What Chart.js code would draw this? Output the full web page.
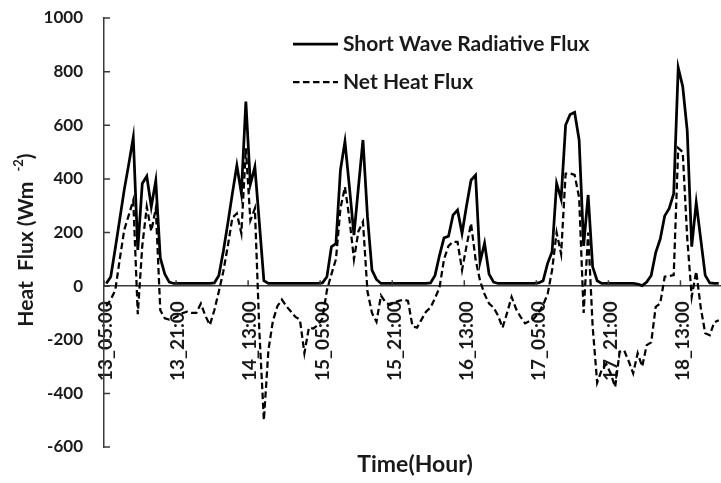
<!DOCTYPE html>
<html><head><meta charset="utf-8">
<script src="https://cdn.jsdelivr.net/npm/chart.js@4.4.1/dist/chart.umd.min.js"></script>
<style>html,body{margin:0;padding:0;background:#fff}</style>
</head><body>
<canvas id="c" width="721" height="483"></canvas>
<script>
// ---- data ----
const startDay = 13, startHour = 5, hoursCount = 137;
const categories = [];
for (let i = 0; i < hoursCount; i++) {
  const h = startHour + i;
  categories.push((startDay + Math.floor(h / 24)) + '_' + String(h % 24).padStart(2, '0') + ':00');
}
const tickEvery = 16;
const shortWave = [
  10, 35, 140, 250, 360, 455, 555, 135, 383, 410, 296, 393, 105, 45, 15,
  10, 10, 10, 10, 10, 10, 10, 10, 10,
  12, 40, 130, 235, 345, 450, 346, 688, 380, 445, 235, 20,
  10, 10, 10, 10, 10, 10, 10, 10, 10, 10, 10, 10,
  12, 35, 147, 158, 433, 539, 368, 190, 370, 545, 260, 60, 25,
  10, 10, 10, 10, 10, 10, 10, 10, 10, 10, 10,
  12, 40, 115, 180, 186, 265, 284, 197, 300, 395, 414, 90, 160, 45, 15,
  10, 10, 10, 10, 10, 10, 10, 10, 10,
  12, 20, 85, 128, 383, 325, 601, 640, 648, 545, 150, 340, 72, 20,
  10, 10, 10, 10, 10, 10, 10, 10,
  8, 2, 15, 40, 125, 175, 262, 290, 345, 815, 745, 580, 147, 312, 175, 40, 12, 10, 10
];
const netHeat = [
  -75, -50, -15, 100, 210, 265, 320, -105, 150, 296, 205, 290, -90, -120, -125,
  -120, -110, -100, -95, -100, -100, -65, -110, -145,
  -90, -20, 55, 150, 255, 271, 197, 514, 245, 290, -170, -500,
  -240, -130, -75, -50, -75, -95, -115, -125, -250, -155, -158, -145,
  -120, -15, 45, 100, 290, 370, 250, 100, 205, 240, -20, -100, -133,
  -35, -60, -70, -60, -55, -50, -55, -150, -155, -125, -95,
  -80, -45, -5, 100, 150, 165, 165, 60, 150, 234, 100, 20, -30, -65, -80,
  -110, -155, -100, -40, -85, -115, -139, -130, -120,
  -100, -70, -30, 60, 200, 120, 420, 420, 415, 330, -100, 200, -150, -360,
  -313, -290, -326, -376, -245, -240, -280, -325,
  -250, -300, -220, -210, -77, -65, 35, 38, 41, 515, 500, 180, -40, 55, -80, -176, -183, -135, -127
];
const seriesNames = ['Short Wave Radiative Flux', 'Net Heat Flux'];
const yMin = -600, yMax = 1000, yStep = 200;
const xTitle = 'Time(Hour)';
const yTitleMain = 'Heat  Flux (Wm  ', yTitleSup = '-2', yTitleEnd = ')';

// ---- styles ----
const FONT = "Lato, 'Noto Sans', sans-serif";
const TXT = '#1a1a1a';
const AXIS = '#3a3a3a';

const decorPlugin = {
  id: 'decor',
  afterDraw(chart) {
    const {ctx, scales: {x, y}, chartArea} = chart;
    ctx.save();
    // tick marks (inside)
    ctx.strokeStyle = AXIS; ctx.lineWidth = 1.5;
    const y0 = y.getPixelForValue(0);
    const half = (x.getPixelForValue(1) - x.getPixelForValue(0)) / 2;
    ctx.beginPath();
    for (let i = 0; i < categories.length; i += tickEvery) {
      const px = x.getPixelForValue(i) - half;
      ctx.moveTo(px, y0); ctx.lineTo(px, y0 - 6);
    }
    y.ticks.forEach(t => {
      const py = y.getPixelForValue(t.value);
      ctx.moveTo(chartArea.left, py); ctx.lineTo(chartArea.left + 6, py);
    });
    ctx.stroke();

    // legend
    const rows = [44, 82];
    chart.data.datasets.forEach((ds, k) => {
      const ly = rows[k];
      ctx.strokeStyle = ds.borderColor; ctx.lineWidth = ds.borderWidth;
      ctx.setLineDash(ds.borderDash || []);
      ctx.beginPath(); ctx.moveTo(293, ly); ctx.lineTo(338, ly); ctx.stroke();
      ctx.setLineDash([]);
      ctx.fillStyle = TXT; ctx.font = 'bold 21px ' + FONT;
      ctx.textAlign = 'left'; ctx.textBaseline = 'middle';
      ctx.fillText(ds.label, 343, ly);
    });

    // x title
    ctx.fillStyle = TXT; ctx.font = 'bold 23px ' + FONT;
    ctx.textAlign = 'center'; ctx.textBaseline = 'middle';
    ctx.fillText(xTitle, 415, 465);

    // y title with superscript
    ctx.translate(26, 240); ctx.rotate(-Math.PI / 2);
    const mainFont = 'bold 21px ' + FONT, supFont = 'bold 13px ' + FONT;
    ctx.font = mainFont; const w1 = ctx.measureText(yTitleMain).width; const w3 = ctx.measureText(yTitleEnd).width;
    ctx.font = supFont; const w2 = ctx.measureText(yTitleSup).width;
    let sx = -(w1 + w2 + w3) / 2;
    ctx.textAlign = 'left'; ctx.textBaseline = 'middle';
    ctx.font = mainFont; ctx.fillText(yTitleMain, sx, 0); sx += w1;
    ctx.font = supFont; ctx.fillText(yTitleSup, sx, -7); sx += w2;
    ctx.font = mainFont; ctx.fillText(yTitleEnd, sx, 0);
    ctx.restore();
  }
};

new Chart(document.getElementById('c'), {
  type: 'line',
  data: {
    labels: categories,
    datasets: [
      { label: seriesNames[0], data: shortWave, borderColor: '#000', borderWidth: 2.75,
        pointRadius: 0, tension: 0, fill: false, order: 1 },
      { label: seriesNames[1], data: netHeat, borderColor: '#000', borderWidth: 2.25,
        borderDash: [6.5, 3.5], pointRadius: 0, tension: 0, fill: false, order: 0 }
    ]
  },
  options: {
    responsive: false, animation: false, devicePixelRatio: 1,
    layout: { padding: { top: 18, left: 0, right: 0, bottom: 36 } },
    plugins: { legend: { display: false }, tooltip: { enabled: false } },
    scales: {
      x: {
        type: 'category', position: { y: 0 }, offset: true,
        grid: { display: false, drawTicks: false },
        border: { display: true, color: AXIS, width: 1.5 },
        ticks: {
          autoSkip: false, minRotation: 90, maxRotation: 90, padding: 15,
          color: TXT, font: { family: FONT, size: 19, weight: 'bold' },
          callback: (v, i) => (i % tickEvery === 0 ? categories[i] : null)
        },
        afterFit: s => { s.paddingLeft = 0; s.paddingRight = 0; }
      },
      y: {
        min: yMin, max: yMax,
        grid: { display: false, drawTicks: false },
        border: { display: true, color: AXIS, width: 1.5 },
        ticks: { stepSize: yStep, padding: 21, color: TXT, font: { family: FONT, size: 17, weight: 'bold' },
          callback: v => String(v) },
        afterFit: s => { s.width = 104; s.paddingTop = 0; s.paddingBottom = 0; }
      }
    }
  },
  plugins: [decorPlugin]
});
</script>
</body></html>
